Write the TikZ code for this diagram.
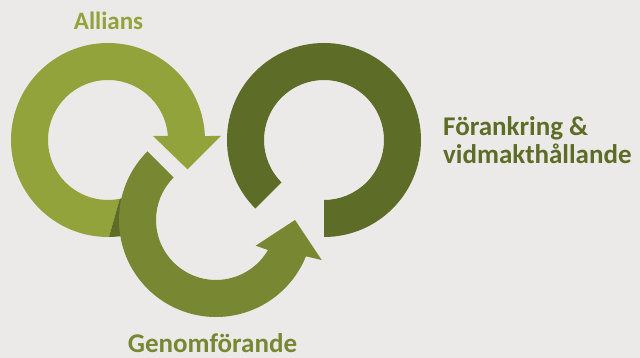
\documentclass[tikz,border=0pt]{standalone}
\usepackage{fontspec}
\setmainfont{Carlito}
\usetikzlibrary{calc}
\definecolor{bgc}{HTML}{EBEAE8}
\definecolor{ringa}{HTML}{93A33C}
\definecolor{ringb}{HTML}{778732}
\definecolor{ringc}{HTML}{5D6C26}
\begin{document}
\begin{tikzpicture}[x=1pt,y=1pt,
  lbl/.style={font=\bfseries\fontsize{27}{29}\selectfont, inner sep=0pt}]
\fill[bgc] (0,0) rectangle (640,358);
\useasboundingbox (0,0) rectangle (640,358);
\coordinate (C1) at (108,218);
\coordinate (C2) at (216,138);
\coordinate (C3) at (324,218);
% ring 3 (Förankring)
\fill[ringc] ($(C3)+(-90:97pt)$) arc[start angle=-90,end angle=225,radius=97pt]
  -- ($(C3)+(225:60pt)$) arc[start angle=225,end angle=-90,radius=60pt] -- cycle;
% ring 1 (Allians)
\fill[ringa] ($(C1)+(-89.4:97pt)$) arc[start angle=-89.4,end angle=-357.64,radius=97pt]
  -- (221,222) -- (187.5,188.7) -- (153,222)
  -- ($(C1)+(3.82:60pt)$) arc[start angle=3.82,end angle=281.3,radius=60pt] -- cycle;
% dark fold under ring 2
\fill[ringc] ($(C1)+(-89.4:97pt)$) arc[start angle=-89.4,end angle=-72,radius=97pt]
  -- ($(C1)+(-72:60pt)$) arc[start angle=-72,end angle=-78.7,radius=60pt] -- cycle;
% ring 2 (Genomförande)
\fill[ringb] ($(C2)+(135:97pt)$) arc[start angle=135,end angle=338,radius=97pt]
  -- (321.7,98) -- (295,138) -- (255.7,112.3)
  -- ($(C2)+(-30:60pt)$) arc[start angle=330,end angle=135,radius=60pt] -- cycle;
% labels
\node[lbl, font=\bfseries\fontsize{25}{27}\selectfont, text=ringa, anchor=base] (allians) at (108.5,328) {Allians};
\node[lbl, text=ringb, anchor=base] (genom) at (212.5,5.5) {Genomförande};
\node[lbl, text=ringc, anchor=base west] (forank1) at (443,222) {Förankring \&};
\node[lbl, text=ringc, anchor=base west] (forank2) at (443,194) {vidmakthållande};
\end{tikzpicture}
\end{document}
